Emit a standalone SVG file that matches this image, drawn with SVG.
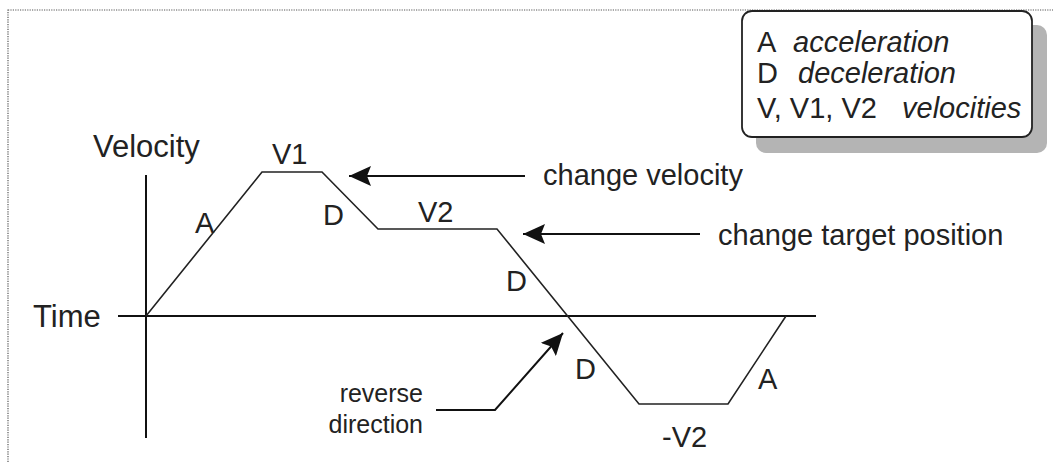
<svg xmlns="http://www.w3.org/2000/svg" width="1053" height="463" viewBox="0 0 1053 463">
<style>
text{font-family:"Liberation Sans",Arial,sans-serif;fill:#222}
.lbl{font-size:29px}
.ax{font-size:31px}
.sm{font-size:25px}
.it{font-style:italic}
.ln{stroke:#111;stroke-width:2;fill:none}
.prof{stroke:#222;stroke-width:1.6;fill:none;stroke-linejoin:miter}
</style>
<defs>
<marker id="ah" viewBox="0 0 22 20" refX="22" refY="10" markerWidth="22" markerHeight="20" markerUnits="userSpaceOnUse" orient="auto">
<path d="M0,0 L22,10 L0,20 L4,10 Z" fill="#111" transform="rotate(0)"/>
</marker>
</defs>
<rect width="1053" height="463" fill="#fff"/>
<rect x="8" y="10" width="1100" height="500" fill="none" stroke="#555" stroke-width="1.2" stroke-dasharray="1.2,1.2"/>

<g id="legend">
<rect x="756" y="25" width="291" height="128" rx="10" fill="#b4b4b4"/>
<rect x="742" y="11" width="290" height="126" rx="10" fill="#fff" stroke="#222" stroke-width="1.8"/>
<text class="lbl" x="757" y="52">A</text><text class="lbl it" x="793" y="52">acceleration</text>
<text class="lbl" x="757" y="83">D</text><text class="lbl it" x="798" y="83">deceleration</text>
<text class="lbl" x="757" y="118">V, V1, V2</text><text class="lbl it" x="902" y="118">velocities</text>
</g>

<g id="axes">
<line class="ln" x1="146" y1="175" x2="146" y2="438"/>
<line class="ln" x1="118" y1="316" x2="816" y2="316"/>
<text class="ax" x="93" y="157">Velocity</text>
<text class="ax" x="33" y="327">Time</text>
</g>

<g id="profile">
<polyline class="prof" points="146,316 262,172 322,172 378,229 497,229 639,404 728,404 786,316"/>
<text class="lbl" x="195" y="233">A</text>
<text class="lbl" x="272" y="164">V1</text>
<text class="lbl" x="323" y="225">D</text>
<text class="lbl" x="418" y="222">V2</text>
<text class="lbl" x="506" y="291">D</text>
<text class="lbl" x="575" y="379">D</text>
<text class="lbl" x="662" y="447">-V2</text>
<text class="lbl" x="758" y="389">A</text>
</g>

<g id="connectors">
<line class="ln" x1="525" y1="176" x2="349" y2="176" marker-end="url(#ah)"/>
<line class="ln" x1="700" y1="234" x2="523" y2="234" marker-end="url(#ah)"/>
<polyline class="ln" points="436,410 495,410 563,333" marker-end="url(#ah)"/>
</g>

<g id="notes">
<text class="lbl" x="543" y="185">change velocity</text>
<text class="lbl" x="718" y="245">change target position</text>
<text class="sm" x="423" y="402" text-anchor="end">reverse</text>
<text class="sm" x="423" y="433" text-anchor="end">direction</text>
</g>
</svg>
